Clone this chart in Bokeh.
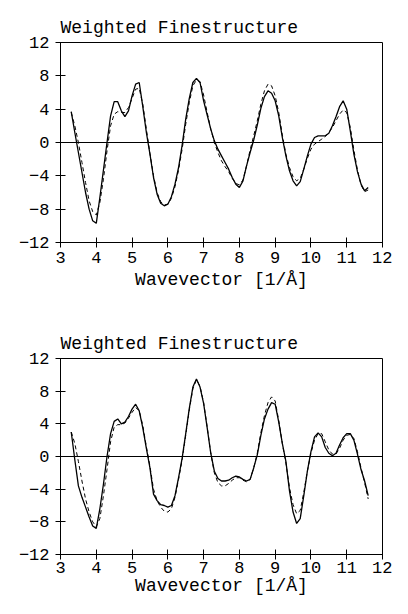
from bokeh.plotting import figure
from bokeh.layouts import column
from bokeh.models import Range1d, Span, FixedTicker
from bokeh.embed import file_html
from bokeh.resources import INLINE

k = [3.3, 3.4, 3.5, 3.6, 3.7, 3.8, 3.9, 4.0, 4.1, 4.2, 4.3, 4.4, 4.5, 4.6, 4.7, 4.8, 4.9,
     5.0, 5.1, 5.2, 5.3, 5.4, 5.5, 5.6, 5.7, 5.8, 5.9, 6.0, 6.1, 6.2, 6.3, 6.4, 6.5, 6.6,
     6.7, 6.8, 6.9, 7.0, 7.1, 7.2, 7.3, 7.4, 7.5, 7.6, 7.7, 7.8, 7.9, 8.0, 8.1, 8.2, 8.3,
     8.4, 8.5, 8.6, 8.7, 8.8, 8.9, 9.0, 9.1, 9.2, 9.3, 9.4, 9.5, 9.6, 9.7, 9.8, 9.9, 10.0,
     10.1, 10.2, 10.3, 10.4, 10.5, 10.6, 10.7, 10.8, 10.9, 11.0, 11.1, 11.2, 11.3, 11.4,
     11.5, 11.6]

# Top panel
top_solid = [3.7, 1.2, -1.2, -3.6, -6.0, -8.0, -9.4, -9.7, -6.6, -3.3, 0.0, 3.2, 4.9,
             4.9, 3.8, 3.1, 3.8, 5.6, 7.0, 7.2, 4.3, 1.2, -1.4, -4.2, -6.2, -7.3, -7.6,
             -7.4, -6.5, -5.0, -3.0, -0.3, 2.8, 5.3, 7.2, 7.7, 7.2, 5.0, 3.3, 1.6, 0.2,
             -0.8, -1.6, -2.4, -3.2, -4.2, -5.0, -5.4, -4.6, -2.8, -1.2, 0.3, 2.1, 4.1,
             5.5, 6.2, 5.9, 5.0, 3.2, 0.6, -1.6, -3.4, -4.6, -5.2, -4.7, -3.2, -1.6, -0.2,
             0.6, 0.8, 0.8, 0.8, 1.1, 2.0, 3.1, 4.3, 5.0, 4.0, 1.4, -1.4, -3.5, -5.0,
             -5.8, -5.4]
top_dashed = [3.6, 2.0, 0.0, -2.4, -4.8, -7.0, -8.3, -8.7, -7.2, -4.4, -1.0, 2.0, 3.4,
              3.7, 3.6, 3.6, 4.2, 5.3, 6.4, 6.5, 4.6, 1.6, -1.3, -4.0, -6.0, -7.1, -7.5,
              -7.4, -6.7, -5.3, -3.3, -0.8, 2.2, 4.8, 6.8, 7.5, 7.3, 5.7, 3.6, 1.6, 0.0,
              -1.2, -2.2, -2.9, -3.5, -4.3, -4.9, -5.1, -4.5, -2.8, -0.9, 0.8, 2.6, 4.6,
              6.2, 7.0, 6.8, 5.6, 3.6, 0.9, -1.4, -3.0, -4.1, -4.6, -4.3, -3.2, -1.9, -0.8,
              -0.2, 0.1, 0.4, 0.7, 1.2, 1.8, 2.6, 3.4, 3.9, 3.6, 1.8, -0.9, -3.3, -5.1,
              -5.9, -5.7]

# Bottom panel
bot_solid = [3.0, -0.4, -3.6, -5.0, -6.2, -7.4, -8.5, -8.8, -6.4, -3.4, 0.0, 2.8, 4.3,
             4.6, 4.0, 4.2, 4.9, 5.8, 6.4, 5.6, 3.5, 1.0, -1.4, -4.6, -5.4, -5.9, -6.0,
             -6.2, -6.0, -4.8, -2.6, -0.2, 2.8, 5.9, 8.5, 9.5, 8.5, 6.5, 3.5, 0.4, -1.8,
             -2.7, -3.0, -3.0, -2.9, -2.6, -2.4, -2.5, -2.8, -3.0, -2.8, -1.4, 0.2, 2.6,
             4.6, 5.8, 6.6, 6.4, 4.2, 1.6, -0.6, -4.2, -6.8, -8.2, -7.6, -4.8, -1.8, 0.6,
             2.4, 2.9, 2.4, 1.1, 0.4, 0.1, 0.4, 1.4, 2.3, 2.8, 2.8, 2.0, 0.3, -1.6, -3.0,
             -4.8]
bot_dashed = [3.0, 1.6, -0.6, -3.0, -5.2, -6.8, -8.0, -8.6, -7.6, -4.8, -1.6, 1.8, 3.6,
              3.9, 3.9, 4.1, 4.7, 5.4, 6.0, 5.6, 3.8, 1.2, -1.2, -4.0, -5.4, -6.2, -6.7,
              -6.8, -6.4, -5.0, -2.8, -0.4, 2.6, 5.7, 8.3, 9.4, 8.6, 6.6, 3.6, 0.4, -2.0,
              -3.2, -3.6, -3.6, -3.3, -2.9, -2.6, -2.6, -2.9, -3.1, -2.8, -1.4, 0.4, 2.9,
              5.0, 6.6, 7.3, 6.8, 4.4, 1.6, -0.8, -3.8, -5.9, -7.0, -6.6, -4.4, -1.8, 0.4,
              2.0, 2.8, 2.8, 1.8, 0.8, 0.3, 0.3, 1.0, 2.0, 2.6, 2.7, 2.2, 0.6, -1.4, -3.2,
              -5.2]

x_ticks = [3, 4, 5, 6, 7, 8, 9, 10, 11, 12]
y_ticks = [-12, -8, -4, 0, 4, 8, 12]
y_labels = {-12: "\u221212", -8: "\u22128", -4: "\u22124", 0: "0", 4: "4", 8: "8", 12: "12"}
title_text = "Weighted Finestructure"
x_label = "Wavevector [1/\u00c5]"

FONT = "Liberation Mono"


def make_panel(solid, dashed, height, b_top, b_bottom, tick_standoff, label_standoff):
    p = figure(width=392, height=height, output_backend="svg", toolbar_location=None,
               x_range=Range1d(3, 12), y_range=Range1d(-12, 12),
               min_border_left=60, min_border_right=10,
               min_border_top=b_top, min_border_bottom=b_bottom)
    p.title.text = title_text
    p.title.align = "left"
    p.title.text_font = FONT
    p.title.text_font_size = "18px"
    p.title.text_font_style = "normal"
    p.title.text_color = "black"
    p.title.standoff = 9
    p.background_fill_color = "white"
    p.border_fill_color = "white"
    p.outline_line_color = "black"
    p.outline_line_width = 1
    p.outline_line_alpha = 1
    p.xgrid.visible = False
    p.ygrid.visible = False

    p.xaxis.ticker = FixedTicker(ticks=x_ticks)
    p.yaxis.ticker = FixedTicker(ticks=y_ticks)
    p.yaxis.major_label_overrides = y_labels
    for ax in (p.xaxis, p.yaxis):
        ax.axis_line_color = "black"
        ax.major_tick_line_color = "black"
        ax.minor_tick_line_color = None
        ax.major_tick_in = 5
        ax.major_tick_out = 5
        ax.major_label_text_font = FONT
        ax.major_label_text_font_size = "17px"
        ax.major_label_text_color = "black"
    p.yaxis.major_label_standoff = 6
    p.xaxis.major_label_standoff = tick_standoff
    p.xaxis.axis_label = x_label
    p.xaxis.axis_label_text_font = FONT
    p.xaxis.axis_label_text_font_size = "18px"
    p.xaxis.axis_label_text_font_style = "normal"
    p.xaxis.axis_label_text_color = "black"
    p.xaxis.axis_label_standoff = label_standoff

    p.add_layout(Span(location=0, dimension="width", line_color="black", line_width=1))
    p.line(k, dashed, line_color="black", line_width=1, line_dash="4 3")
    p.line(k, solid, line_color="black", line_width=1.3)
    return p


p1 = make_panel(top_solid, top_dashed, 300, 42, 58, 4, 4)
p2 = make_panel(bot_solid, bot_dashed, 298, 58, 44, 2, 0)
layout = column(p1, p2, spacing=0)

open("out.html", "w").write(file_html(layout, INLINE))
